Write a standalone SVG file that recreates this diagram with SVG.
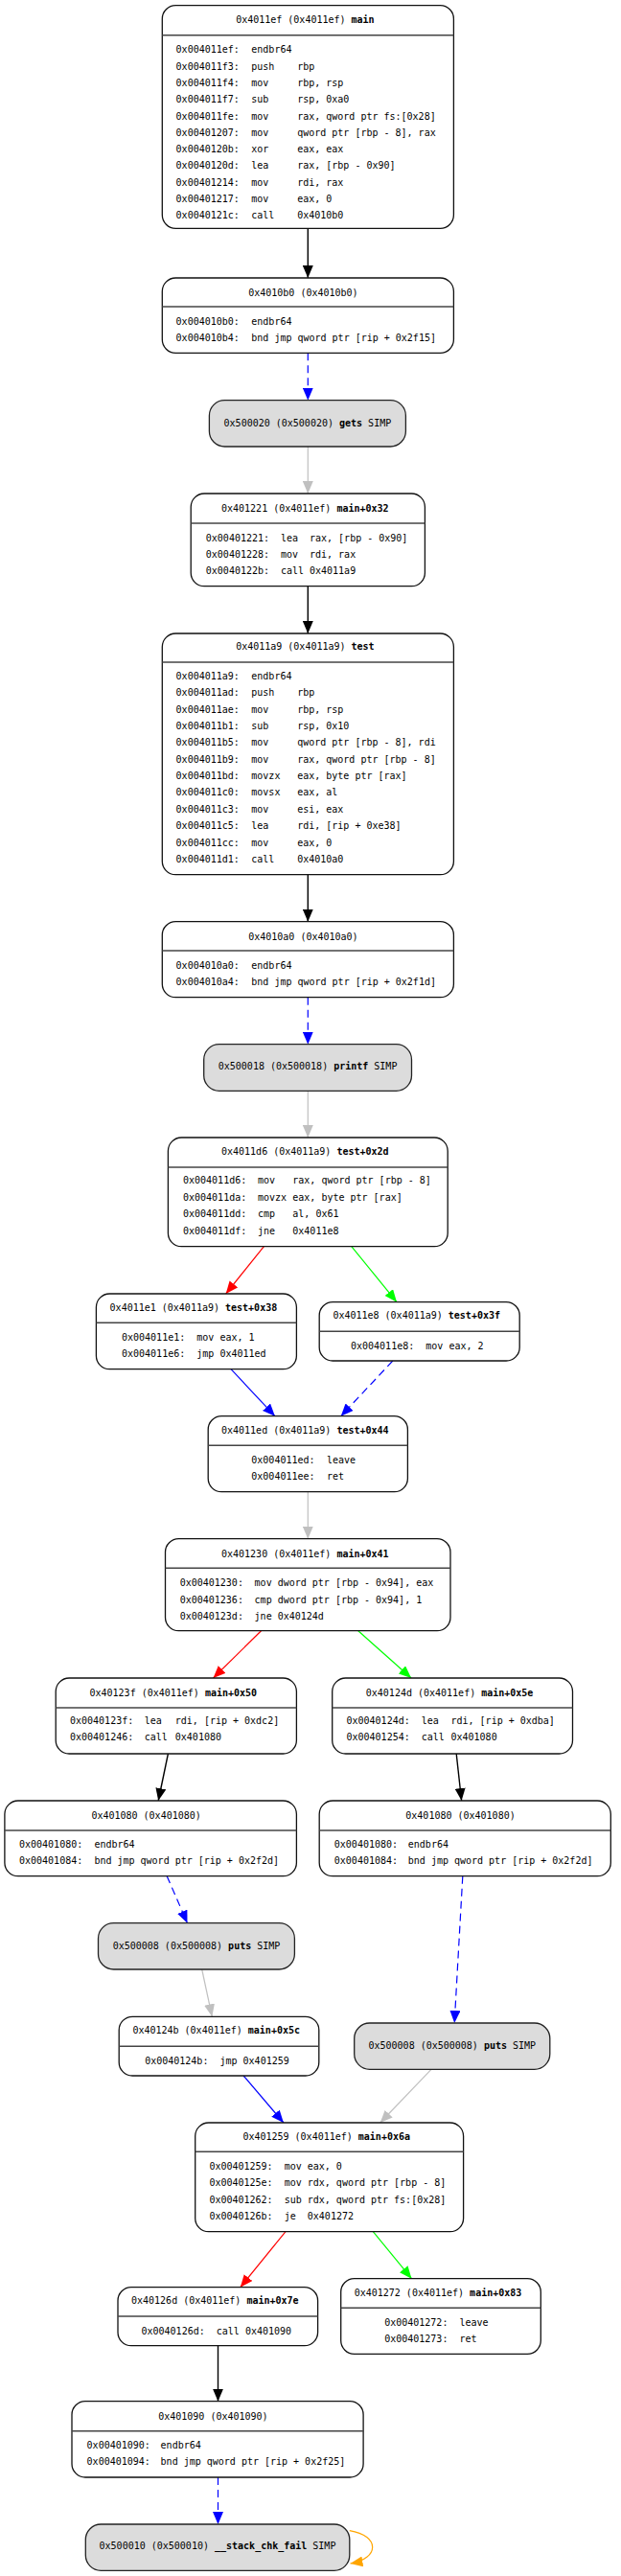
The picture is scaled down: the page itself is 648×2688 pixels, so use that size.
<svg xmlns="http://www.w3.org/2000/svg" width="648" height="2688" viewBox="0 0 648 2688">
<style>
.box{fill:#fff;stroke:#111;stroke-width:1.3}
.simp{fill:#dcdcdc;stroke:#222;stroke-width:1.3}
.sep{stroke:#444;stroke-width:1.6}
text{font-family:"DejaVu Sans Mono",monospace;font-size:10px;fill:#000}
.b{font-weight:bold}
.m{text-anchor:middle}
.e{fill:none;stroke-width:1.2}
.k{stroke:#000;stroke-width:1.4}
.bl{stroke:#0000ff}
.r{stroke:#ff0000}
.g{stroke:#00ff00}
.gr{stroke:#c0c0c0}
.o{stroke:#ffa500}
.d{stroke-dasharray:8,5}
</style>
<defs>
<marker id="ak" viewBox="0 0 13 11" markerWidth="13" markerHeight="11" refX="13" refY="5.5" orient="auto" markerUnits="userSpaceOnUse"><path d="M0,0 L13,5.5 L0,11 z" fill="#000"/></marker>
<marker id="ab" viewBox="0 0 13 11" markerWidth="13" markerHeight="11" refX="13" refY="5.5" orient="auto" markerUnits="userSpaceOnUse"><path d="M0,0 L13,5.5 L0,11 z" fill="#0000ff"/></marker>
<marker id="ar" viewBox="0 0 13 11" markerWidth="13" markerHeight="11" refX="13" refY="5.5" orient="auto" markerUnits="userSpaceOnUse"><path d="M0,0 L13,5.5 L0,11 z" fill="#ff0000"/></marker>
<marker id="ag" viewBox="0 0 13 11" markerWidth="13" markerHeight="11" refX="13" refY="5.5" orient="auto" markerUnits="userSpaceOnUse"><path d="M0,0 L13,5.5 L0,11 z" fill="#00ff00"/></marker>
<marker id="agr" viewBox="0 0 13 11" markerWidth="13" markerHeight="11" refX="13" refY="5.5" orient="auto" markerUnits="userSpaceOnUse"><path d="M0,0 L13,5.5 L0,11 z" fill="#c0c0c0"/></marker>
<marker id="ao" viewBox="0 0 13 11" markerWidth="13" markerHeight="11" refX="13" refY="5.5" orient="auto" markerUnits="userSpaceOnUse"><path d="M0,0 L13,5.5 L0,11 z" fill="#ffa500"/></marker>
</defs>
<rect width="648" height="2688" fill="#fff"/>
<g id="edges">
<path class="e k" d="M321.3,238.3 L321.3,290" marker-end="url(#ak)"/>
<path class="e bl d" d="M321.3,368.3 L321.3,417.7" marker-end="url(#ab)"/>
<path class="e gr" d="M321.3,466 L321.3,515" marker-end="url(#agr)"/>
<path class="e k" d="M321.3,611.7 L321.3,661" marker-end="url(#ak)"/>
<path class="e k" d="M321.3,912.7 L321.3,961.7" marker-end="url(#ak)"/>
<path class="e bl d" d="M321.3,1040.7 L321.3,1089.7" marker-end="url(#ab)"/>
<path class="e gr" d="M321.3,1138.3 L321.3,1187" marker-end="url(#agr)"/>
<path class="e r" d="M275.4,1300.7 L235.7,1350" marker-end="url(#ar)"/>
<path class="e g" d="M366.8,1300.7 L414,1358.7" marker-end="url(#ag)"/>
<path class="e bl" d="M241,1428.7 L286.9,1477.7" marker-end="url(#ab)"/>
<path class="e bl d" d="M409.8,1420 L355.7,1477.7" marker-end="url(#ab)"/>
<path class="e gr" d="M321.3,1556.7 L321.3,1605.7" marker-end="url(#agr)"/>
<path class="e r" d="M272.5,1701.7 L222.5,1751" marker-end="url(#ar)"/>
<path class="e g" d="M373.8,1701.7 L429.1,1751" marker-end="url(#ag)"/>
<path class="e k" d="M175.4,1830 L165.2,1879" marker-end="url(#ak)"/>
<path class="e k" d="M476.2,1830 L481.6,1879" marker-end="url(#ak)"/>
<path class="e bl d" d="M174.2,1957.7 L195.5,2006.7" marker-end="url(#ab)"/>
<path class="e bl d" d="M482.8,1957.7 L474.2,2111" marker-end="url(#ab)"/>
<path class="e gr" d="M210.7,2055 L221.3,2104.3" marker-end="url(#agr)"/>
<path class="e bl" d="M254.1,2166 L295.9,2215" marker-end="url(#ab)"/>
<path class="e gr" d="M450,2159.3 L396.7,2215" marker-end="url(#agr)"/>
<path class="e r" d="M298,2328.7 L250.8,2386.7" marker-end="url(#ar)"/>
<path class="e g" d="M389.3,2328.7 L429.5,2377.7" marker-end="url(#ag)"/>
<path class="e k" d="M227.5,2447.7 L227.5,2505.7" marker-end="url(#ak)"/>
<path class="e bl d" d="M227.5,2585 L227.5,2634" marker-end="url(#ab)"/>
<path class="e o" d="M364.8,2640.7 C397,2646 396,2670 365.5,2675" marker-end="url(#ao)"/>
</g>

<g id="n-4011ef">
<rect class="box" x="169.3" y="5.7" width="304.1" height="232.6" rx="14"/>
<line class="sep" x1="169.3" y1="36.7" x2="473.4" y2="36.7"/>
<text class="m" x="318.4" y="23.6">0x4011ef (0x4011ef) <tspan class="b">main</tspan></text>
<text y="55.3"><tspan x="183.6">0x004011ef:</tspan><tspan x="262.3">endbr64</tspan></text>
<text y="72.6"><tspan x="183.6">0x004011f3:</tspan><tspan x="262.3">push</tspan><tspan x="310.2">rbp</tspan></text>
<text y="89.9"><tspan x="183.6">0x004011f4:</tspan><tspan x="262.3">mov</tspan><tspan x="310.2">rbp, rsp</tspan></text>
<text y="107.2"><tspan x="183.6">0x004011f7:</tspan><tspan x="262.3">sub</tspan><tspan x="310.2">rsp, 0xa0</tspan></text>
<text y="124.5"><tspan x="183.6">0x004011fe:</tspan><tspan x="262.3">mov</tspan><tspan x="310.2">rax, qword ptr fs:[0x28]</tspan></text>
<text y="141.8"><tspan x="183.6">0x00401207:</tspan><tspan x="262.3">mov</tspan><tspan x="310.2">qword ptr [rbp - 8], rax</tspan></text>
<text y="159.1"><tspan x="183.6">0x0040120b:</tspan><tspan x="262.3">xor</tspan><tspan x="310.2">eax, eax</tspan></text>
<text y="176.4"><tspan x="183.6">0x0040120d:</tspan><tspan x="262.3">lea</tspan><tspan x="310.2">rax, [rbp - 0x90]</tspan></text>
<text y="193.7"><tspan x="183.6">0x00401214:</tspan><tspan x="262.3">mov</tspan><tspan x="310.2">rdi, rax</tspan></text>
<text y="211.0"><tspan x="183.6">0x00401217:</tspan><tspan x="262.3">mov</tspan><tspan x="310.2">eax, 0</tspan></text>
<text y="228.3"><tspan x="183.6">0x0040121c:</tspan><tspan x="262.3">call</tspan><tspan x="310.2">0x4010b0</tspan></text>
</g>

<g id="n-4010b0">
<rect class="box" x="169.3" y="290" width="304.1" height="78.3" rx="14"/>
<line class="sep" x1="169.3" y1="320" x2="473.4" y2="320"/>
<text class="m" x="316.4" y="308.9">0x4010b0 (0x4010b0)</text>
<text y="338.9"><tspan x="183.6">0x004010b0:</tspan><tspan x="262.3">endbr64</tspan></text>
<text y="355.9"><tspan x="183.6">0x004010b4:</tspan><tspan x="262.3">bnd jmp qword ptr [rip + 0x2f15]</tspan></text>
</g>

<g id="n-500020">
<rect class="simp" x="218.4" y="417.7" width="205" height="48.3" rx="16"/>
<text class="m" x="320.9" y="444.6">0x500020 (0x500020) <tspan class="b">gets</tspan> SIMP</text>
</g>

<g id="n-401221">
<rect class="box" x="199.2" y="515" width="244.2" height="96.7" rx="14"/>
<line class="sep" x1="199.2" y1="546" x2="443.4" y2="546"/>
<text class="m" x="318.3" y="533.6">0x401221 (0x4011ef) <tspan class="b">main+0x32</tspan></text>
<text y="564.6"><tspan x="214.8">0x00401221:</tspan><tspan x="293">lea</tspan><tspan x="323">rax, [rbp - 0x90]</tspan></text>
<text y="581.8"><tspan x="214.8">0x00401228:</tspan><tspan x="293">mov</tspan><tspan x="323">rdi, rax</tspan></text>
<text y="599.0"><tspan x="214.8">0x0040122b:</tspan><tspan x="293">call</tspan><tspan x="323">0x4011a9</tspan></text>
</g>

<g id="n-4011a9">
<rect class="box" x="169.3" y="661" width="304.1" height="251.7" rx="14"/>
<line class="sep" x1="169.3" y1="691" x2="473.4" y2="691"/>
<text class="m" x="318.4" y="677.9">0x4011a9 (0x4011a9) <tspan class="b">test</tspan></text>
<text y="708.9"><tspan x="183.6">0x004011a9:</tspan><tspan x="262.3">endbr64</tspan></text>
<text y="726.3"><tspan x="183.6">0x004011ad:</tspan><tspan x="262.3">push</tspan><tspan x="310.2">rbp</tspan></text>
<text y="743.6"><tspan x="183.6">0x004011ae:</tspan><tspan x="262.3">mov</tspan><tspan x="310.2">rbp, rsp</tspan></text>
<text y="761.0"><tspan x="183.6">0x004011b1:</tspan><tspan x="262.3">sub</tspan><tspan x="310.2">rsp, 0x10</tspan></text>
<text y="778.3"><tspan x="183.6">0x004011b5:</tspan><tspan x="262.3">mov</tspan><tspan x="310.2">qword ptr [rbp - 8], rdi</tspan></text>
<text y="795.7"><tspan x="183.6">0x004011b9:</tspan><tspan x="262.3">mov</tspan><tspan x="310.2">rax, qword ptr [rbp - 8]</tspan></text>
<text y="813.1"><tspan x="183.6">0x004011bd:</tspan><tspan x="262.3">movzx</tspan><tspan x="310.2">eax, byte ptr [rax]</tspan></text>
<text y="830.4"><tspan x="183.6">0x004011c0:</tspan><tspan x="262.3">movsx</tspan><tspan x="310.2">eax, al</tspan></text>
<text y="847.8"><tspan x="183.6">0x004011c3:</tspan><tspan x="262.3">mov</tspan><tspan x="310.2">esi, eax</tspan></text>
<text y="865.1"><tspan x="183.6">0x004011c5:</tspan><tspan x="262.3">lea</tspan><tspan x="310.2">rdi, [rip + 0xe38]</tspan></text>
<text y="882.5"><tspan x="183.6">0x004011cc:</tspan><tspan x="262.3">mov</tspan><tspan x="310.2">eax, 0</tspan></text>
<text y="899.9"><tspan x="183.6">0x004011d1:</tspan><tspan x="262.3">call</tspan><tspan x="310.2">0x4010a0</tspan></text>
</g>

<g id="n-4010a0">
<rect class="box" x="169.3" y="961.7" width="304.1" height="79" rx="14"/>
<line class="sep" x1="169.3" y1="992" x2="473.4" y2="992"/>
<text class="m" x="316.4" y="980.9">0x4010a0 (0x4010a0)</text>
<text y="1010.9"><tspan x="183.6">0x004010a0:</tspan><tspan x="262.3">endbr64</tspan></text>
<text y="1027.9"><tspan x="183.6">0x004010a4:</tspan><tspan x="262.3">bnd jmp qword ptr [rip + 0x2f1d]</tspan></text>
</g>

<g id="n-500018">
<rect class="simp" x="212.7" y="1089.7" width="216.8" height="48.6" rx="16"/>
<text class="m" x="321.1" y="1116.3">0x500018 (0x500018) <tspan class="b">printf</tspan> SIMP</text>
</g>

<g id="n-4011d6">
<rect class="box" x="175.4" y="1187" width="291.8" height="113.7" rx="14"/>
<line class="sep" x1="175.4" y1="1218" x2="467.2" y2="1218"/>
<text class="m" x="318.3" y="1205.3">0x4011d6 (0x4011a9) <tspan class="b">test+0x2d</tspan></text>
<text y="1235.3"><tspan x="191">0x004011d6:</tspan><tspan x="268.9">mov</tspan><tspan x="305.3">rax, qword ptr [rbp - 8]</tspan></text>
<text y="1252.8"><tspan x="191">0x004011da:</tspan><tspan x="268.9">movzx</tspan><tspan x="305.3">eax, byte ptr [rax]</tspan></text>
<text y="1270.4"><tspan x="191">0x004011dd:</tspan><tspan x="268.9">cmp</tspan><tspan x="305.3">al, 0x61</tspan></text>
<text y="1287.9"><tspan x="191">0x004011df:</tspan><tspan x="268.9">jne</tspan><tspan x="305.3">0x4011e8</tspan></text>
</g>

<g id="n-4011e1">
<rect class="box" x="100.4" y="1350" width="209" height="78.7" rx="14"/>
<line class="sep" x1="100.4" y1="1380.3" x2="309.4" y2="1380.3"/>
<text class="m" x="201.9" y="1367.9">0x4011e1 (0x4011a9) <tspan class="b">test+0x38</tspan></text>
<text y="1398.9"><tspan x="127">0x004011e1:</tspan><tspan x="205.3">mov eax, 1</tspan></text>
<text y="1415.9"><tspan x="127">0x004011e6:</tspan><tspan x="205.3">jmp 0x4011ed</tspan></text>
</g>

<g id="n-4011e8">
<rect class="box" x="333.2" y="1358.7" width="209" height="61.3" rx="14"/>
<line class="sep" x1="333.2" y1="1389.3" x2="542.2" y2="1389.3"/>
<text class="m" x="434.7" y="1376.3">0x4011e8 (0x4011a9) <tspan class="b">test+0x3f</tspan></text>
<text y="1407.9"><tspan x="366">0x004011e8:</tspan><tspan x="444.3">mov eax, 2</tspan></text>
</g>

<g id="n-4011ed">
<rect class="box" x="217.2" y="1477.7" width="208.2" height="79" rx="14"/>
<line class="sep" x1="217.2" y1="1508.3" x2="425.4" y2="1508.3"/>
<text class="m" x="318.3" y="1496.3">0x4011ed (0x4011a9) <tspan class="b">test+0x44</tspan></text>
<text y="1526.9"><tspan x="262.3">0x004011ed:</tspan><tspan x="341">leave</tspan></text>
<text y="1543.9"><tspan x="262.3">0x004011ee:</tspan><tspan x="341">ret</tspan></text>
</g>

<g id="n-401230">
<rect class="box" x="172.5" y="1605.7" width="297.5" height="96" rx="14"/>
<line class="sep" x1="172.5" y1="1636.3" x2="470" y2="1636.3"/>
<text class="m" x="318.3" y="1624.6">0x401230 (0x4011ef) <tspan class="b">main+0x41</tspan></text>
<text y="1655.3"><tspan x="187.7">0x00401230:</tspan><tspan x="265.6">mov dword ptr [rbp - 0x94], eax</tspan></text>
<text y="1672.8"><tspan x="187.7">0x00401236:</tspan><tspan x="265.6">cmp dword ptr [rbp - 0x94], 1</tspan></text>
<text y="1689.9"><tspan x="187.7">0x0040123d:</tspan><tspan x="265.6">jne 0x40124d</tspan></text>
</g>

<g id="n-40123f">
<rect class="box" x="58.2" y="1751" width="251.2" height="79" rx="14"/>
<line class="sep" x1="58.2" y1="1782" x2="309.4" y2="1782"/>
<text class="m" x="180.8" y="1769.6">0x40123f (0x4011ef) <tspan class="b">main+0x50</tspan></text>
<text y="1799.3"><tspan x="73">0x0040123f:</tspan><tspan x="150.8">lea</tspan><tspan x="182.8">rdi, [rip + 0xdc2]</tspan></text>
<text y="1816.3"><tspan x="73">0x00401246:</tspan><tspan x="150.8">call</tspan><tspan x="182.8">0x401080</tspan></text>
</g>

<g id="n-40124d">
<rect class="box" x="346.7" y="1751" width="250.8" height="79" rx="14"/>
<line class="sep" x1="346.7" y1="1782" x2="597.5" y2="1782"/>
<text class="m" x="469.1" y="1769.6">0x40124d (0x4011ef) <tspan class="b">main+0x5e</tspan></text>
<text y="1799.3"><tspan x="361.5">0x0040124d:</tspan><tspan x="439.8">lea</tspan><tspan x="470.5">rdi, [rip + 0xdba]</tspan></text>
<text y="1816.3"><tspan x="361.5">0x00401254:</tspan><tspan x="439.8">call</tspan><tspan x="470.5">0x401080</tspan></text>
</g>

<g id="n-401080-a">
<rect class="box" x="4.9" y="1879" width="304.5" height="78.7" rx="14"/>
<line class="sep" x1="4.9" y1="1910" x2="309.4" y2="1910"/>
<text class="m" x="152.6" y="1897.6">0x401080 (0x401080)</text>
<text y="1927.6"><tspan x="20">0x00401080:</tspan><tspan x="98.4">endbr64</tspan></text>
<text y="1944.6"><tspan x="20">0x00401084:</tspan><tspan x="98.4">bnd jmp qword ptr [rip + 0x2f2d]</tspan></text>
</g>

<g id="n-401080-b">
<rect class="box" x="333.2" y="1879" width="304.1" height="78.7" rx="14"/>
<line class="sep" x1="333.2" y1="1910" x2="637.3" y2="1910"/>
<text class="m" x="480.5" y="1897.6">0x401080 (0x401080)</text>
<text y="1927.6"><tspan x="348.8">0x00401080:</tspan><tspan x="425.8">endbr64</tspan></text>
<text y="1944.6"><tspan x="348.8">0x00401084:</tspan><tspan x="425.8">bnd jmp qword ptr [rip + 0x2f2d]</tspan></text>
</g>

<g id="n-500008-a">
<rect class="simp" x="102.5" y="2006.7" width="204.9" height="48.3" rx="16"/>
<text class="m" x="205" y="2034.3">0x500008 (0x500008) <tspan class="b">puts</tspan> SIMP</text>
</g>

<g id="n-40124b">
<rect class="box" x="124.2" y="2104.3" width="208.6" height="61.7" rx="14"/>
<line class="sep" x1="124.2" y1="2135.3" x2="332.8" y2="2135.3"/>
<text class="m" x="225.7" y="2122.3">0x40124b (0x4011ef) <tspan class="b">main+0x5c</tspan></text>
<text y="2153.9"><tspan x="151.2">0x0040124b:</tspan><tspan x="229.5">jmp 0x401259</tspan></text>
</g>

<g id="n-500008-b">
<rect class="simp" x="369.7" y="2111" width="204.1" height="48.3" rx="16"/>
<text class="m" x="471.8" y="2137.9">0x500008 (0x500008) <tspan class="b">puts</tspan> SIMP</text>
</g>

<g id="n-401259">
<rect class="box" x="203.7" y="2215" width="279.9" height="113.7" rx="14"/>
<line class="sep" x1="203.7" y1="2245.3" x2="483.6" y2="2245.3"/>
<text class="m" x="340.7" y="2232.9">0x401259 (0x4011ef) <tspan class="b">main+0x6a</tspan></text>
<text y="2263.9"><tspan x="218.4">0x00401259:</tspan><tspan x="296.7">mov eax, 0</tspan></text>
<text y="2281.2"><tspan x="218.4">0x0040125e:</tspan><tspan x="296.7">mov rdx, qword ptr [rbp - 8]</tspan></text>
<text y="2298.6"><tspan x="218.4">0x00401262:</tspan><tspan x="296.7">sub rdx, qword ptr fs:[0x28]</tspan></text>
<text y="2315.9"><tspan x="218.4">0x0040126b:</tspan><tspan x="296.7">je</tspan><tspan x="320.8">0x401272</tspan></text>
</g>

<g id="n-40126d">
<rect class="box" x="123" y="2386.7" width="208.6" height="61" rx="14"/>
<line class="sep" x1="123" y1="2417" x2="331.6" y2="2417"/>
<text class="m" x="224.3" y="2404.3">0x40126d (0x4011ef) <tspan class="b">main+0x7e</tspan></text>
<text y="2435.9"><tspan x="147.5">0x0040126d:</tspan><tspan x="225.8">call 0x401090</tspan></text>
</g>

<g id="n-401272">
<rect class="box" x="355.7" y="2377.7" width="208.6" height="78.6" rx="14"/>
<line class="sep" x1="355.7" y1="2408.3" x2="564.3" y2="2408.3"/>
<text class="m" x="457" y="2395.9">0x401272 (0x4011ef) <tspan class="b">main+0x83</tspan></text>
<text y="2426.9"><tspan x="401.2">0x00401272:</tspan><tspan x="479.5">leave</tspan></text>
<text y="2443.9"><tspan x="401.2">0x00401273:</tspan><tspan x="479.5">ret</tspan></text>
</g>

<g id="n-401090">
<rect class="box" x="75" y="2505.7" width="304.1" height="79.3" rx="14"/>
<line class="sep" x1="75" y1="2536.7" x2="379.1" y2="2536.7"/>
<text class="m" x="222.4" y="2524.9">0x401090 (0x401090)</text>
<text y="2554.9"><tspan x="90.6">0x00401090:</tspan><tspan x="167.6">endbr64</tspan></text>
<text y="2571.9"><tspan x="90.6">0x00401094:</tspan><tspan x="167.6">bnd jmp qword ptr [rip + 0x2f25]</tspan></text>
</g>

<g id="n-500010">
<rect class="simp" x="89.3" y="2634" width="275.5" height="48.3" rx="16"/>
<text class="m" x="227" y="2660.3">0x500010 (0x500010) <tspan class="b">__stack_chk_fail</tspan> SIMP</text>
</g>
</svg>
